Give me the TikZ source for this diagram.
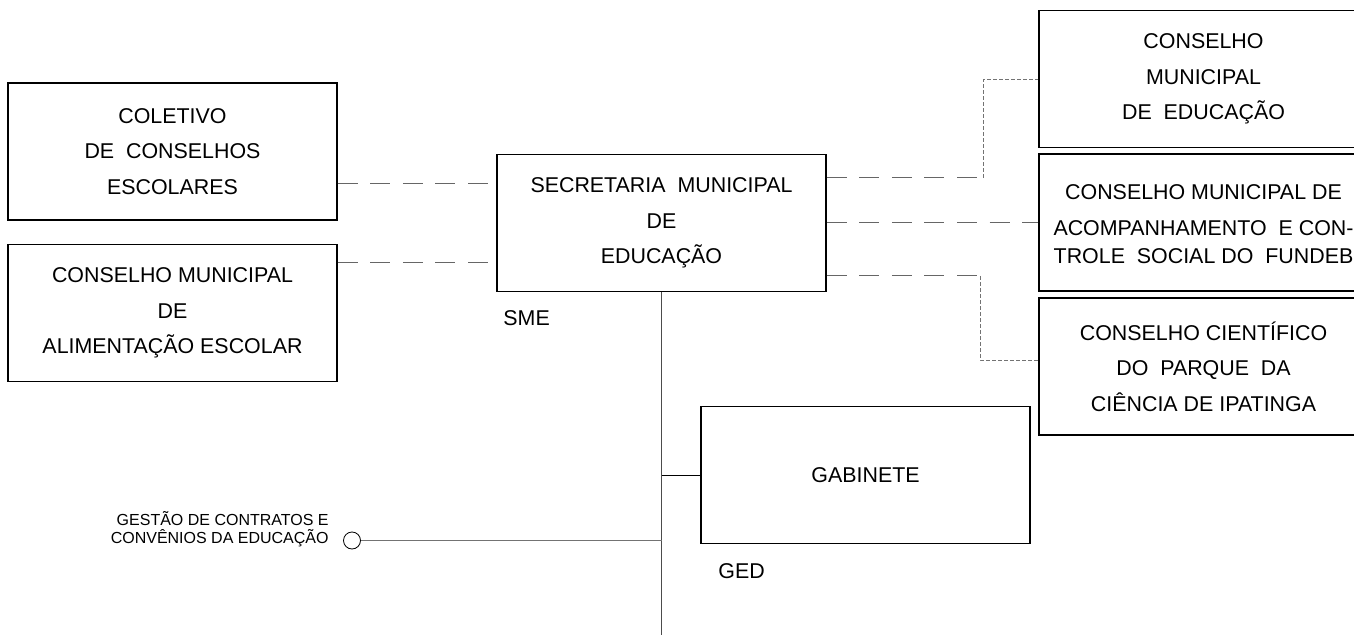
\documentclass[tikz,border=0pt]{standalone}
\usepackage{fontspec}
\setmainfont{Liberation Sans}
\usepackage{xcolor}
\usepackage{tikz}

\begin{document}
\begin{tikzpicture}[x=0.5pt, y=-0.5pt,
  orgbox/.style={draw, line width=0.65pt, minimum width=164.5pt, minimum height=68.5pt,
    inner sep=0pt, align=center, font=\fontsize{10.7}{17.75}\selectfont},
  tag/.style={inner sep=0pt, anchor=base west, font=\fontsize{10.7}{12}\selectfont},
  longdash/.style={draw=black!60, line width=0.5pt, dash pattern=on 10pt off 6.3pt},
  shortdash/.style={draw=black!55, line width=0.5pt, dash pattern=on 2pt off 1pt}]
\useasboundingbox (0,0) rectangle (1354,636);
% left side
\node[orgbox] (coletivo) at (172.5,151.5) {COLETIVO\\DE~~CONSELHOS\\ESCOLARES};
\node[orgbox] (alimentacao) at (172.5,313) {CONSELHO MUNICIPAL\\DE\\ALIMENTAÇÃO ESCOLAR};
% centre
\node[orgbox] (sme) at (661.5,223) {SECRETARIA~~MUNICIPAL\\DE\\EDUCAÇÃO};
\node[tag] (smetag) at (503,325) {SME};
\node[orgbox] (gabinete) at (865.5,475) {GABINETE};
\node[tag] (gedtag) at (718,578) {GED};
% right side
\node[orgbox] (cme) at (1203.5,79) {CONSELHO\\MUNICIPAL\\DE~~EDUCAÇÃO};
\node[orgbox, minimum height=68.5pt] (fundeb) at (1203.5,222.5) {};
\node[inner sep=0pt, align=center, font=\fontsize{10.7}{17.75}\selectfont] (fundebtext) at (1203.5,224.5)
  {CONSELHO MUNICIPAL DE\\ACOMPANHAMENTO~~E CON-\\[-3.5pt]TROLE~~SOCIAL DO~~FUNDEB};
\node[orgbox] (cientifico) at (1203.5,366.5) {CONSELHO CIENTÍFICO\\DO~~PARQUE~~DA\\CIÊNCIA DE IPATINGA};
% contracts
\node[draw, circle, inner sep=0pt, minimum size=8.5pt, line width=0.4pt] (gcc) at (352,540.5) {};
\node[inner sep=0pt, anchor=east, align=right, font=\fontsize{8}{9}\selectfont] (gcctag) at (329,529)
  {GESTÃO DE CONTRATOS E\\CONVÊNIOS DA EDUCAÇÃO};
\coordinate (k1) at (983,178);
\coordinate (k2) at (980,276);
\coordinate (vend) at (661.5,635);

% connectors
\draw[longdash] (coletivo.east |- 0,184) -- (sme.west |- 0,184);
\draw[longdash] (alimentacao.east |- 0,263) -- (sme.west |- 0,263);
\draw[longdash] (sme.east |- 0,178) -- (k1);
\draw[shortdash] (k1) |- (cme.west |- 0,80);
\draw[longdash] (sme.east |- 0,223) -- (fundeb.west |- 0,223);
\draw[longdash] (sme.east |- 0,276) -- (k2);
\draw[shortdash] (k2) |- (cientifico.west |- 0,360);
\draw[black!70, line width=0.5pt] (sme.south) -- (vend);
\draw[line width=0.5pt] (gabinete.west) -- (gabinete.west -| sme.south);
\draw[black!55, line width=0.8pt] (gcc.east) -- (gcc.east -| sme.south);
\end{tikzpicture}
\end{document}
